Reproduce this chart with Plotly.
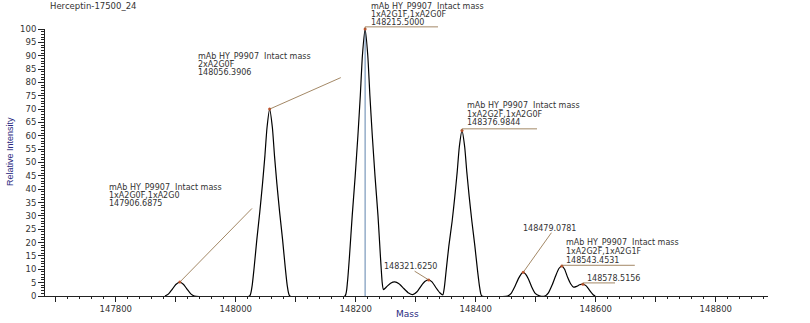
import plotly.graph_objects as go

# ---------------- data ----------------
title_text = "Herceptin-17500_24"
x_title = "Mass"
y_title = "Relative Intensity"

mass = [147882, 147888, 147894, 147900, 147906.7, 147913, 147919, 147925, 147931,
        148023, 148027, 148030.5, 148035, 148040, 148044.5, 148048.5, 148052, 148056.4,
        148061, 148064.5, 148068.5, 148073, 148078, 148082.5, 148086, 148090,
        148182, 148186, 148189.5, 148194, 148199, 148203.5, 148207.5, 148211, 148215.5,
        148220, 148223.5, 148227.5, 148232, 148237, 148241, 148244, 148246,
        148252, 148258, 148265, 148272, 148280, 148288, 148295, 148302, 148309, 148315, 148321.6,
        148327, 148334, 148340, 148345,
        148347.5, 148350.5, 148355, 148360.5, 148365, 148369, 148372.5, 148377,
        148381.5, 148385, 148389, 148393.5, 148398.5, 148403, 148406.5, 148410,
        148453, 148459, 148465, 148471, 148475.5, 148479, 148483, 148487.5, 148493, 148499, 148506,
        148515, 148521, 148527, 148533, 148538.5, 148543.5, 148548, 148553, 148558, 148563,
        148568, 148573, 148578.5, 148584, 148590, 148596, 148599]
intensity = [0, 0.8, 2.5, 4.3, 5.2, 4.3, 2.5, 0.8, 0,
             0, 3.5, 10.5, 21, 31.5, 42, 52.5, 63, 70,
             63, 52.5, 42, 31.5, 21, 10.5, 3.5, 0,
             0, 5, 15, 30, 45, 60, 75, 90, 100,
             90, 75, 60, 45, 30, 15, 5, 2.4,
             3.6, 4.8, 5.3, 4.6, 2.8, 1.1, 0.5, 1.6, 3.8, 5.4, 6.0,
             5.3, 3.0, 1.2, 0.4,
             3.1, 9.3, 18.6, 27.9, 37.2, 46.5, 55.8, 62,
             55.8, 46.5, 37.2, 27.9, 18.6, 9.3, 3.1, 0,
             0, 1.0, 3.5, 6.5, 8.2, 8.9, 8.2, 6.5, 3.5, 1.0, 0.1,
             0, 1.2, 4.0, 7.5, 10.3, 11.2, 10.0, 7.0, 4.6, 3.3,
             3.6, 4.2, 4.4, 3.8, 2.0, 0.4, 0]

# labelled peaks
peak_mass = [147906.6875, 148056.3906, 148215.5000, 148321.6250, 148376.9844, 148479.0781, 148543.4531, 148578.5156]
peak_int = [5.2, 70, 100, 6.0, 62, 8.9, 11.2, 4.4]
peak_lines = [
    ["mAb HY_P9907  Intact mass", "1xA2G0F,1xA2G0", "147906.6875"],
    ["mAb HY_P9907  Intact mass", "2xA2G0F", "148056.3906"],
    ["mAb HY_P9907  Intact mass", "1xA2G1F,1xA2G0F", "148215.5000"],
    ["148321.6250"],
    ["mAb HY_P9907  Intact mass", "1xA2G2F,1xA2G0F", "148376.9844"],
    ["148479.0781"],
    ["mAb HY_P9907  Intact mass", "1xA2G2F,1xA2G1F", "148543.4531"],
    ["148578.5156"],
]
marker_mass = 148215.5

x_tickvals = [147700, 147800, 147900, 148000, 148100, 148200, 148300, 148400, 148500, 148600, 148700, 148800]
x_ticktext = ["", "147800", "", "148000", "", "148200", "", "148400", "", "148600", "", "148800"]
y_tickvals = list(range(0, 101, 5))

# ---------------- layout / style (positions) ----------------
X0, X1 = 147682, 148887
Y0, Y1 = 0, 100
# text block: (x of left edge, y of first line centre, line step) in data units
label_pos = [
    (147787, 40.8, 3.1),
    (147935, 89.8, 3.1),
    (148223, 108.6, 3.1),
    (148245, 11.0, 0),
    (148383, 71.2, 3.2),
    (148477, 25.3, 0),
    (148548, 19.9, 3.3),
    (148583, 6.6, 0),
]
# leader end points (data units) ; kind: 'diag' or 'under'
leader = [
    ("diag", 148027, 32.8),
    ("diag", 148175, 81.8),
    ("under", 148337, 100.8),
    ("diag", 148298, 9.3),
    ("under", 148502, 62.6),
    ("diag", 148526, 23.7),
    ("under", 148665, 11.5),
    ("under", 148632, 4.9),
]

LEAD_COL = "#8c6a3f"
TXT_COL = "#333333"
NAVY = "#2a2a80"
FONT = "DejaVu Sans"


def py(v):
    """intensity value -> paper fraction (so labels above the axis top are not hidden)"""
    return (v - Y0) / (Y1 - Y0)


fig = go.Figure()

fig.add_trace(go.Scatter(x=[marker_mass, marker_mass], y=[0, 100], mode="lines",
                         line=dict(color="#5f84ad", width=1), hoverinfo="skip", showlegend=False))

fig.add_trace(go.Scatter(x=mass, y=intensity, mode="lines",
                         line=dict(color="black", width=1.2, shape="spline", smoothing=0.5),
                         showlegend=False))

shapes = []
for (kind, xe, ye), pm, pi in zip(leader, peak_mass, peak_int):
    if kind == "diag":
        shapes.append(dict(type="line", xref="x", yref="paper", x0=pm, y0=py(pi), x1=xe, y1=py(ye),
                           line=dict(color=LEAD_COL, width=0.8)))
    else:
        shapes.append(dict(type="line", xref="x", yref="paper", x0=pm, y0=py(pi), x1=pm, y1=py(ye),
                           line=dict(color=LEAD_COL, width=0.8)))
        shapes.append(dict(type="line", xref="x", yref="paper", x0=pm, y0=py(ye), x1=xe, y1=py(ye),
                           line=dict(color=LEAD_COL, width=0.8)))

fig.add_trace(go.Scatter(x=peak_mass, y=peak_int, mode="markers", cliponaxis=False,
                         marker=dict(color="#c0502a", size=3), hoverinfo="skip", showlegend=False))

annotations = []
for lines, (lx, ly, step) in zip(peak_lines, label_pos):
    for i, t in enumerate(lines):
        annotations.append(dict(x=lx, y=py(ly - i * step), xref="x", yref="paper", text=t, showarrow=False,
                                xanchor="left", yanchor="middle", borderpad=0,
                                font=dict(family=FONT, size=8, color=TXT_COL)))

annotations.append(dict(x=0.004, y=1.086, xref="paper", yref="paper", text=title_text, showarrow=False,
                        xanchor="left", yanchor="middle", font=dict(family=FONT, size=8.5, color=TXT_COL)))
annotations.append(dict(x=0.5007, y=-0.067, xref="paper", yref="paper", text=x_title, showarrow=False,
                        xanchor="center", yanchor="middle", font=dict(family=FONT, size=9, color=NAVY)))
annotations.append(dict(x=-0.048, y=0.54, xref="paper", yref="paper", text=y_title, showarrow=False,
                        textangle=-90, xanchor="center", yanchor="middle",
                        font=dict(family="Liberation Sans Narrow, Liberation Sans", size=9, color=NAVY)))

fig.update_layout(
    width=810, height=323,
    margin=dict(l=45, r=42, t=29, b=27),
    paper_bgcolor="white", plot_bgcolor="white",
    annotations=annotations, shapes=shapes,
    xaxis=dict(range=[X0, X1], showgrid=False, zeroline=False, showline=True, linecolor="#222", linewidth=1,
               automargin=False,
               tickmode="array", tickvals=x_tickvals, ticktext=x_ticktext,
               ticks="outside", ticklen=5, tickcolor="#222",
               minor=dict(dtick=20, tick0=147700, ticks="outside", ticklen=2, tickcolor="#222"),
               tickfont=dict(family=FONT, size=8.5, color=TXT_COL)),
    yaxis=dict(range=[Y0, Y1], showgrid=False, zeroline=False, showline=True, linecolor="#222", linewidth=1,
               automargin=False,
               tickmode="array", tickvals=y_tickvals, ticks="outside", ticklen=6, tickcolor="#222",
               minor=dict(dtick=1, ticks="outside", ticklen=3, tickcolor="#222"),
               tickfont=dict(family=FONT, size=8.5, color=TXT_COL)),
)

fig.write_html("out.html")
